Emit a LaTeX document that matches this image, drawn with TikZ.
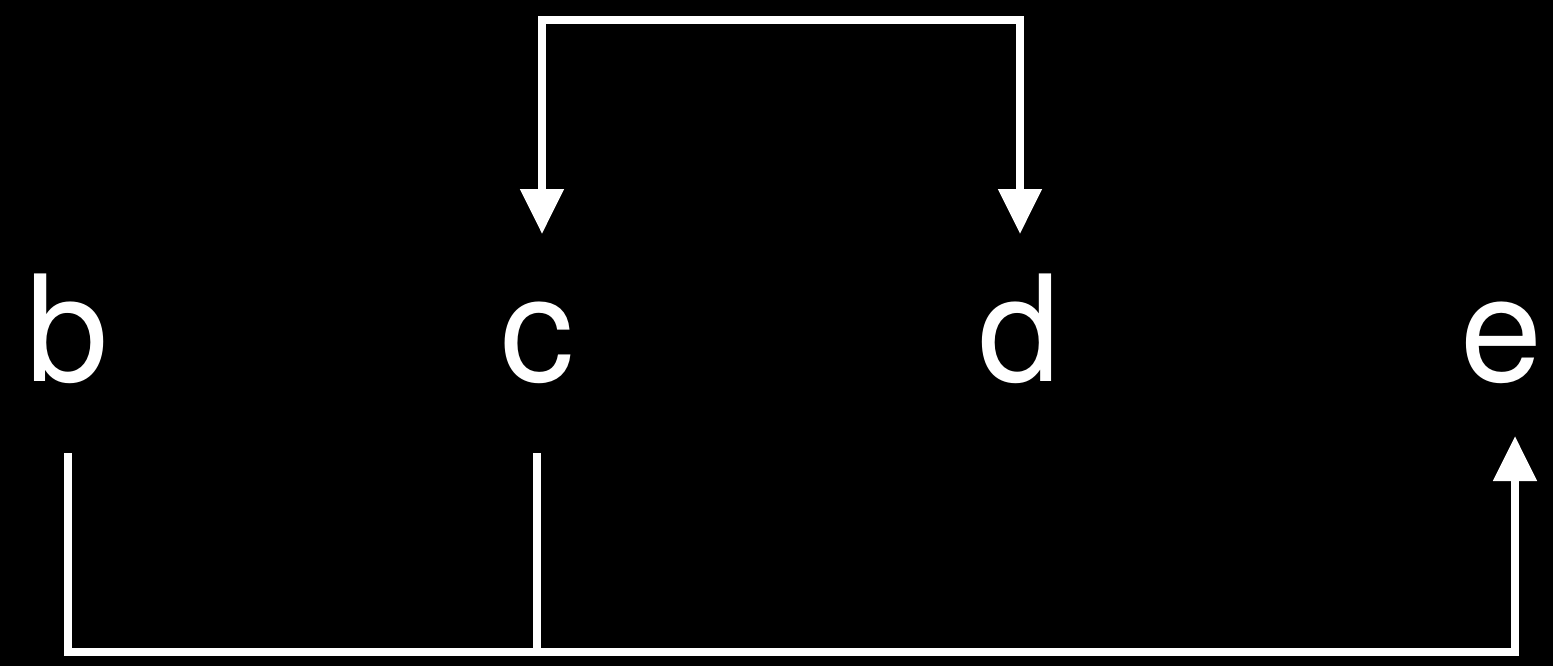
\documentclass[tikz,border=0pt]{standalone}
\usepackage{fontspec}
\setmainfont{TeX Gyre Heros}
\usetikzlibrary{arrows.meta}
\tikzset{
every picture/.style={
line width=0.08cm
},
letter/.style={anchor=base, inner sep=0pt, text=white, text height=1.43cm, text depth=0.68cm, font=\fontsize{42pt}{50pt}\selectfont},
wire/.style={white},
head/.tip={Triangle[length=0.45cm, width=0.42cm]}
}

\begin{document}
\begin{tikzpicture}
\fill[black] (0,0) rectangle (15.53,-6.66);
\useasboundingbox (0,0) rectangle (15.53,-6.66);

\foreach \n/\x in {b/0.68, c/5.37, d/10.20, e/15.02}{
  \node[letter] (\n) at (\x,-3.81) {\n};
}

\coordinate (ceil) at (0,-0.20);
\coordinate (floor) at (0,-6.52);
\coordinate (cin) at ([xshift=0.05cm]c.north);
\coordinate (ein) at ([xshift=0.13cm, yshift=0.17cm]e.south);

\draw[wire, head-head] (cin) |- (d.north |- ceil) -- (d.north);
\draw[wire, -head] (b.south) |- (ein |- floor) -- (ein);
\draw[wire] (c.south) -- (c.south |- floor);
\end{tikzpicture}
\end{document}
